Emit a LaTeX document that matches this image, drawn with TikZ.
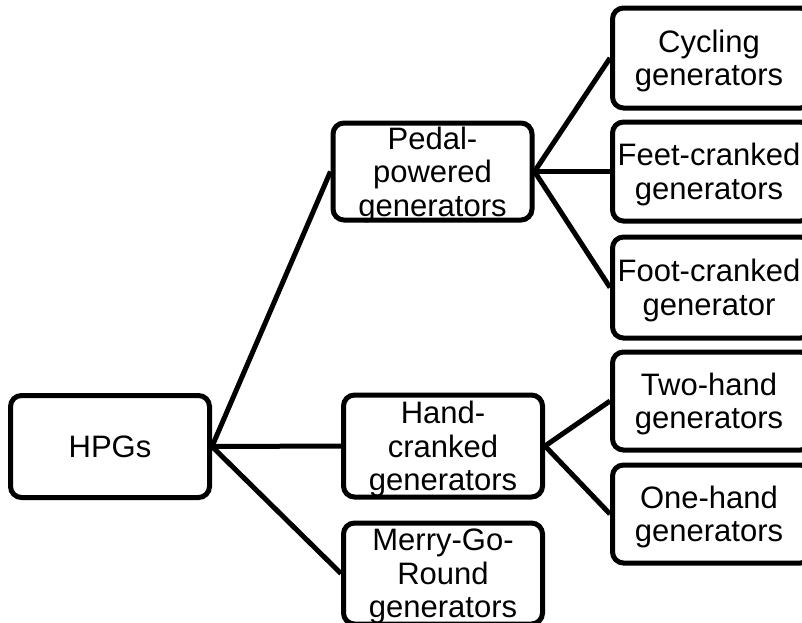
\documentclass[tikz,border=0pt]{standalone}
\usepackage{fontspec}
\setmainfont{Liberation Sans}
\begin{document}
\begin{tikzpicture}[x=1pt,y=-1pt,
  box/.style={draw=black, line width=5pt, rounded corners=11pt, fill=white,
    inner sep=0pt, minimum width=199pt},
  txt/.style={inner sep=0pt, align=center, font=\fontsize{31}{33.5}\selectfont},
  link/.style={draw=black, line width=5pt}]
\useasboundingbox (0,0) rectangle (802,622);
\clip (0,0) rectangle (802,622);
\node[box, minimum height=102pt] (hpg) at (110,446.5) {};
\node[box, minimum height=97pt] (pedal) at (432.5,171.5) {};
\node[box, minimum height=102pt] (hand) at (443,446) {};
\node[box, minimum height=101pt] (merry) at (443,573.5) {};
\node[box, minimum height=100pt] (cyc) at (712,58) {};
\node[box, minimum height=99pt] (feet) at (712,171.5) {};
\node[box, minimum height=101pt] (foot) at (712,287.5) {};
\node[box, minimum height=98pt] (two) at (712,401) {};
\node[box, minimum height=98pt] (one) at (712,514) {};
\node[txt] (hpg-t) at (hpg.center) {HPGs};
\node[txt] (pedal-t) at ([yshift=-3pt]pedal.center) {Pedal-\\powered\\generators};
\node[txt] (hand-t) at ([yshift=-3pt]hand.center) {Hand-\\cranked\\generators};
\node[txt] (merry-t) at ([yshift=-3pt]merry.center) {Merry-Go-\\Round\\generators};
\node[txt] (cyc-t) at ([xshift=-3pt,yshift=-3pt]cyc.center) {Cycling\\generators};
\node[txt] (feet-t) at ([xshift=-3pt,yshift=-3pt]feet.center) {Feet-cranked\\generators};
\node[txt] (foot-t) at ([xshift=-3pt,yshift=-3pt]foot.center) {Foot-cranked\\generator};
\node[txt] (two-t) at ([xshift=-3pt,yshift=-3pt]two.center) {Two-hand\\generators};
\node[txt] (one-t) at ([xshift=-3pt,yshift=-3pt]one.center) {One-hand\\generators};
\draw[link] (hpg.east) -- (pedal.west);
\draw[link] (hpg.east) -- (hand.west);
\draw[link] (hpg.east) -- (merry.west);
\draw[link] (pedal.east) -- (cyc.west);
\draw[link] (pedal.east) -- (feet.west);
\draw[link] (pedal.east) -- (foot.west);
\draw[link] (hand.east) -- (two.west);
\draw[link] (hand.east) -- (one.west);
\end{tikzpicture}
\end{document}
